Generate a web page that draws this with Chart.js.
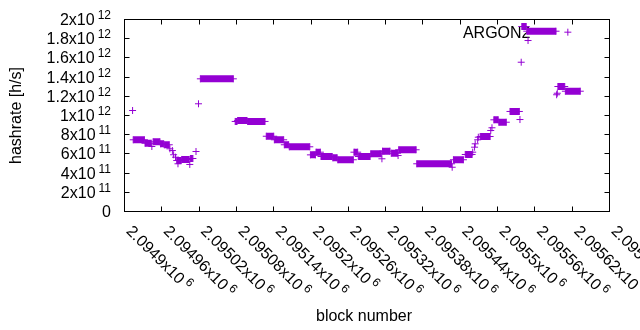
<!DOCTYPE html>
<html>
<head>
<meta charset="utf-8">
<script src="https://cdn.jsdelivr.net/npm/chart.js@4.4.1/dist/chart.umd.min.js"></script>
<style>
    html, body { margin: 0; padding: 0; background: #fff; }
    canvas { display: block; }
</style>
</head>
<body>
<canvas id="hashChart" width="640" height="330"></canvas>
<script>
// ============ DONNEES ============
// runs of blocks with the same hashrate (one "+" per block in the original)
const runStart = [2094914, 2094933, 2094946, 2094958, 2094964, 2094984, 2094992, 2095006, 2095022, 2095078,
                  2095082, 2095098, 2095128, 2095141, 2095157, 2095165, 2095199, 2095208, 2095216, 2095235,
                  2095243, 2095269, 2095276, 2095296, 2095315, 2095329, 2095341, 2095370, 2095429, 2095448,
                  2095472, 2095494, 2095502, 2095520, 2095539, 2095547, 2095597, 2095609];
const runEnd   = [2094932, 2094943, 2094957, 2094963, 2094972, 2094991, 2095004, 2095010, 2095075, 2095081,
                  2095097, 2095126, 2095140, 2095156, 2095164, 2095198, 2095207, 2095215, 2095234, 2095242,
                  2095268, 2095275, 2095295, 2095313, 2095327, 2095339, 2095369, 2095426, 2095445, 2095459,
                  2095488, 2095501, 2095514, 2095535, 2095546, 2095594, 2095608, 2095633];
const runHash  = [7.47e11, 7.11e11, 7.26e11, 7.05e11, 6.95e11, 5.31e11, 5.42e11, 5.52e11, 1.382e12, 9.38e11,
                  9.48e11, 9.38e11, 7.84e11, 7.47e11, 6.95e11, 6.74e11, 5.90e11, 6.18e11, 5.73e11, 5.59e11,
                  5.39e11, 6.18e11, 5.73e11, 6.01e11, 6.28e11, 6.07e11, 6.43e11, 4.97e11, 5.39e11, 5.94e11,
                  7.81e11, 9.55e11, 9.30e11, 1.042e12, 1.927e12, 1.878e12, 1.302e12, 1.253e12];

// single blocks
const pointBlock = [2094913, 2094944, 2094973, 2094977, 2094979, 2094982, 2094986, 2095005, 2095015, 2095019,
                    2095314, 2095340, 2095427, 2095460, 2095463, 2095464, 2095468, 2095469, 2095489, 2095491,
                    2095536, 2095538, 2095549, 2095595, 2095596, 2095613];
const pointHash  = [1.052e12, 6.77e11, 6.53e11, 6.35e11, 5.91e11, 5.66e11, 4.97e11, 4.90e11, 6.25e11, 1.122e12,
                    5.49e11, 5.83e11, 4.61e11, 6.18e11, 6.70e11, 7.05e11, 7.47e11, 7.74e11, 8.44e11, 8.72e11,
                    9.58e11, 1.555e12, 1.781e12, 1.216e12, 1.232e12, 1.868e12];

const xTickValues = [2094900, 2094960, 2095020, 2095080, 2095140, 2095200, 2095260,
                     2095320, 2095380, 2095440, 2095500, 2095560, 2095620, 2095680];
const xTickLabels = ['2.0949x10^6', '2.09496x10^6', '2.09502x10^6', '2.09508x10^6', '2.09514x10^6',
                     '2.0952x10^6', '2.09526x10^6', '2.09532x10^6', '2.09538x10^6', '2.09544x10^6',
                     '2.0955x10^6', '2.09556x10^6', '2.09562x10^6', '2.09568x10^6'];
const yTickValues = [0, 2e11, 4e11, 6e11, 8e11, 1e12, 1.2e12, 1.4e12, 1.6e12, 1.8e12, 2e12];
const yTickLabels = ['0', '2x10^11', '4x10^11', '6x10^11', '8x10^11', '1x10^12',
                     '1.2x10^12', '1.4x10^12', '1.6x10^12', '1.8x10^12', '2x10^12'];

const seriesName = 'ARGON2';
const xTitle = 'block number';
const yTitle = 'hashrate [h/s]';

// ============ STYLE ============
const PURPLE = '#9400d3';
const FONT = '"Liberation Sans", Arial, sans-serif';
const TICK_LEN = 5;

// runs -> segments, nulls break the line between them
const chartData = [];
runStart.forEach((s, i) => {
    chartData.push({ x: s, y: runHash[i] }, { x: runEnd[i], y: runHash[i] }, { x: runEnd[i], y: null });
});
pointBlock.forEach((b, i) => {
    chartData.push({ x: b, y: pointHash[i] }, { x: b, y: null });
});

// label "mantissa^exp" -> main text + superscript
function drawPowerLabel(ctx, label, x, y, align) {
    const parts = label.split('^');
    ctx.font = '16px ' + FONT;
    const wMain = ctx.measureText(parts[0]).width;
    let wSup = 0;
    if (parts[1]) {
        ctx.font = '12px ' + FONT;
        wSup = ctx.measureText(parts[1]).width + 3;
    }
    let x0 = align === 'right' ? x - wMain - wSup : x;
    ctx.textAlign = 'left';
    ctx.textBaseline = 'alphabetic';
    ctx.font = '16px ' + FONT;
    ctx.fillText(parts[0], x0, y);
    if (parts[1]) {
        ctx.font = '12px ' + FONT;
        ctx.fillText(parts[1], x0 + wMain + 3, y - 6);
    }
}

const gnuplotFrame = {
    id: 'gnuplotFrame',
    beforeDatasetsDraw(chart) {
        const ctx = chart.ctx;
        ctx.save();
        ctx.fillStyle = '#000';
        ctx.font = '16px ' + FONT;
        ctx.textAlign = 'right';
        ctx.textBaseline = 'alphabetic';
        ctx.fillText(seriesName, 530.5, 37.5);
        ctx.restore();
    },
    afterDatasetsDraw(chart) {
        const ctx = chart.ctx;
        const area = chart.chartArea;
        const xs = chart.scales.x;
        const ys = chart.scales.y;
        ctx.save();
        ctx.strokeStyle = '#000';
        ctx.lineWidth = 1;
        ctx.strokeRect(area.left, area.top, area.right - area.left, area.bottom - area.top);

        ctx.beginPath();
        xTickValues.forEach(v => {
            const px = Math.floor(xs.getPixelForValue(v)) + 0.5;
            ctx.moveTo(px, area.bottom); ctx.lineTo(px, area.bottom - TICK_LEN);
            ctx.moveTo(px, area.top); ctx.lineTo(px, area.top + TICK_LEN);
        });
        yTickValues.forEach(v => {
            const py = Math.floor(ys.getPixelForValue(v)) + 0.5;
            ctx.moveTo(area.left, py); ctx.lineTo(area.left + TICK_LEN, py);
            ctx.moveTo(area.right, py); ctx.lineTo(area.right - TICK_LEN, py);
        });
        ctx.stroke();

        ctx.fillStyle = '#000';
        yTickValues.forEach((v, i) => {
            const py = ys.getPixelForValue(v);
            drawPowerLabel(ctx, yTickLabels[i], 111, py + 5.5, 'right');
        });
        xTickValues.forEach((v, i) => {
            const px = xs.getPixelForValue(v);
            ctx.save();
            ctx.translate(px + 1, 232);
            ctx.rotate(Math.PI / 4);
            drawPowerLabel(ctx, xTickLabels[i], 0, 0, 'left');
            ctx.restore();
        });

        // axis titles
        ctx.font = '16px ' + FONT;
        ctx.textAlign = 'center';
        ctx.textBaseline = 'alphabetic';
        ctx.fillText(xTitle, 364, 321);
        ctx.save();
        ctx.translate(21, (area.top + area.bottom) / 2);
        ctx.rotate(-Math.PI / 2);
        ctx.fillText(yTitle, 0, 0);
        ctx.restore();
        ctx.restore();
    }
};

new Chart(document.getElementById('hashChart').getContext('2d'), {
    type: 'line',
    data: {
        datasets: [{
            label: seriesName,
            data: chartData,
            borderColor: PURPLE,
            backgroundColor: PURPLE,
            borderWidth: 7,
            borderCapStyle: 'butt',
            spanGaps: false,
            tension: 0,
            fill: false,
            pointStyle: 'cross',
            pointRadius: 3.5,
            pointBorderWidth: 1,
            pointBorderColor: PURPLE,
            clip: false
        }]
    },
    options: {
        responsive: false,
        animation: false,
        devicePixelRatio: 1,
        layout: { padding: { left: 124.5, right: 30.5, top: 19.5, bottom: 118.5 } },
        plugins: { legend: { display: false }, tooltip: { enabled: false } },
        scales: {
            x: { type: 'linear', display: false, min: 2094900, max: 2095680 },
            y: { type: 'linear', display: false, min: 0, max: 2e12 }
        }
    },
    plugins: [gnuplotFrame]
});
</script>
</body>
</html>
